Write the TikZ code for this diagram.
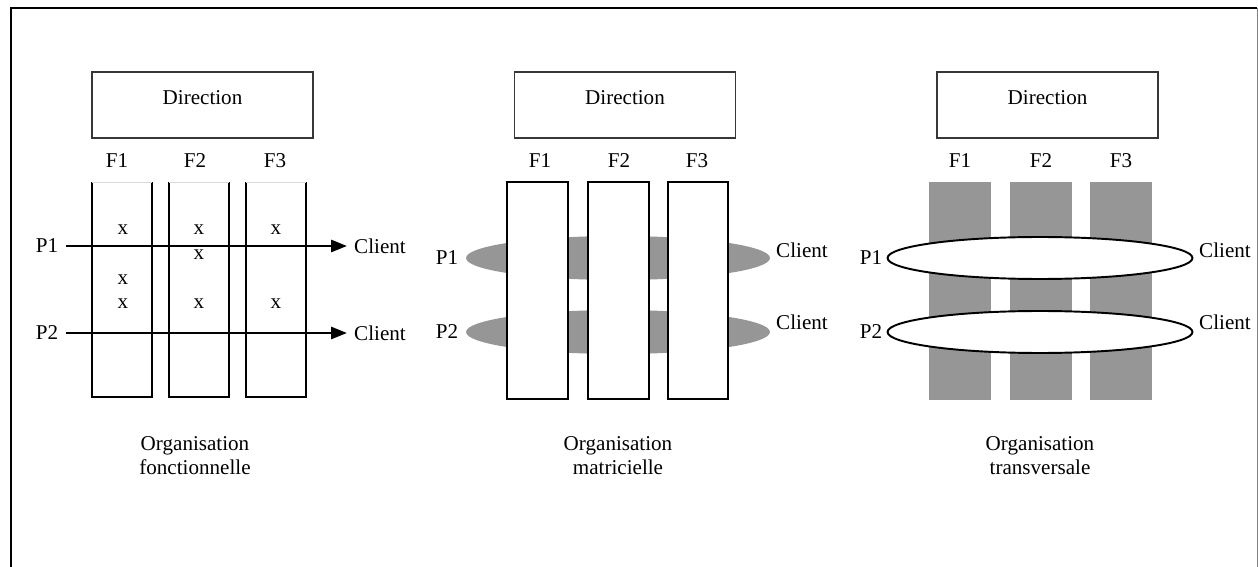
\documentclass[tikz,border=0pt]{standalone}
\usepackage{fontspec}
\setmainfont{Liberation Serif}
\usetikzlibrary{arrows.meta, shapes.geometric, positioning}
\definecolor{barGray}{RGB}{150,150,150}
\definecolor{boxLine}{RGB}{55,55,55}

\tikzset{
    txt/.style={font=\fontsize{12}{13.8}\selectfont, inner sep=4pt},
    dirbox/.style={draw=boxLine, line width=1.1pt, minimum width=4.42cm, minimum height=1.32cm, text depth=8pt, font=\fontsize{12}{13.8}\selectfont},
    colline/.style={line width=1.1pt},
    flow/.style={line width=1.1pt, -{Triangle[length=9pt, width=7pt]}}
}

\begin{document}
\begin{tikzpicture}[x=0.02cm, y=-0.02cm]
    \useasboundingbox (0,0) rectangle (1258,567);

    % cadre
    \draw[line width=1.2pt] (11,567) -- (11,8) -- (1257,8);
    \draw[gray] (1257,8) -- (1257,567);

    % --- organisation fonctionnelle ---
    \node[dirbox] (dirA) at (202.5,105) {Direction};
    \foreach \xl/\xr/\f in {92/152/1, 169/229/2, 246/306/3} {
        \draw[colline] (\xl,182) -- (\xl,397) -- (\xr,397) -- (\xr,182);
        \draw[black!15] (\xl,182) -- (\xr,182);
    }
    \node[txt] (fA1) at (117,161) {F1};
    \node[txt] (fA2) at (195,161) {F2};
    \node[txt] (fA3) at (275,161) {F3};
    \foreach \px/\py in {123/230, 199/230, 276/230, 199/255, 123/280, 123/304, 199/304, 276/304}
        \node[txt, inner sep=0pt] at (\px,\py) {x};
    \node[txt] (pA1) at (47,246) {P1};
    \node[txt] (pA2) at (47,333) {P2};
    \node[txt] (cA1) at (380,246) {Client};
    \node[txt] (cA2) at (380,333) {Client};
    \draw[flow] (pA1) -- (cA1);
    \draw[flow] (pA2) -- (cA2);
    \node[txt, align=center] (orgA) at (195,456) {Organisation\\fonctionnelle};

    % --- organisation matricielle ---
    \node[dirbox] (dirB) at (625,105) {Direction};
    \fill[barGray] (618,258) ellipse [x radius=3.04cm, y radius=0.44cm];
    \fill[barGray] (618,332) ellipse [x radius=3.04cm, y radius=0.44cm];
    \foreach \xl/\xr in {507/568, 588/649, 668/728}
        \draw[colline, fill=white] (\xl,182) rectangle (\xr,399);
    \node[txt] (fB1) at (540,161) {F1};
    \node[txt] (fB2) at (619,161) {F2};
    \node[txt] (fB3) at (697,161) {F3};
    \node[txt] (pB1) at (447,258) {P1};
    \node[txt] (pB2) at (447,332) {P2};
    \node[txt] (cB1) at (802,250) {Client};
    \node[txt] (cB2) at (802,322) {Client};
    \node[txt, align=center] (orgB) at (618,456) {Organisation\\matricielle};

    % --- organisation transversale ---
    \node[dirbox] (dirC) at (1047.5,105) {Direction};
    \foreach \xl/\xr in {929/991, 1010/1072, 1090/1152}
        \fill[barGray] (\xl,182) rectangle (\xr,400);
    \draw[line width=1.1pt, fill=white] (1040,258) ellipse [x radius=3.05cm, y radius=0.42cm];
    \draw[line width=1.1pt, fill=white] (1040,332) ellipse [x radius=3.05cm, y radius=0.42cm];
    \node[txt] (fC1) at (960,161) {F1};
    \node[txt] (fC2) at (1041,161) {F2};
    \node[txt] (fC3) at (1121,161) {F3};
    \node[txt] (pC1) at (871,258) {P1};
    \node[txt] (pC2) at (871,332) {P2};
    \node[txt] (cC1) at (1225,250) {Client};
    \node[txt] (cC2) at (1225,322) {Client};
    \node[txt, align=center] (orgC) at (1040,456) {Organisation\\transversale};
\end{tikzpicture}
\end{document}
